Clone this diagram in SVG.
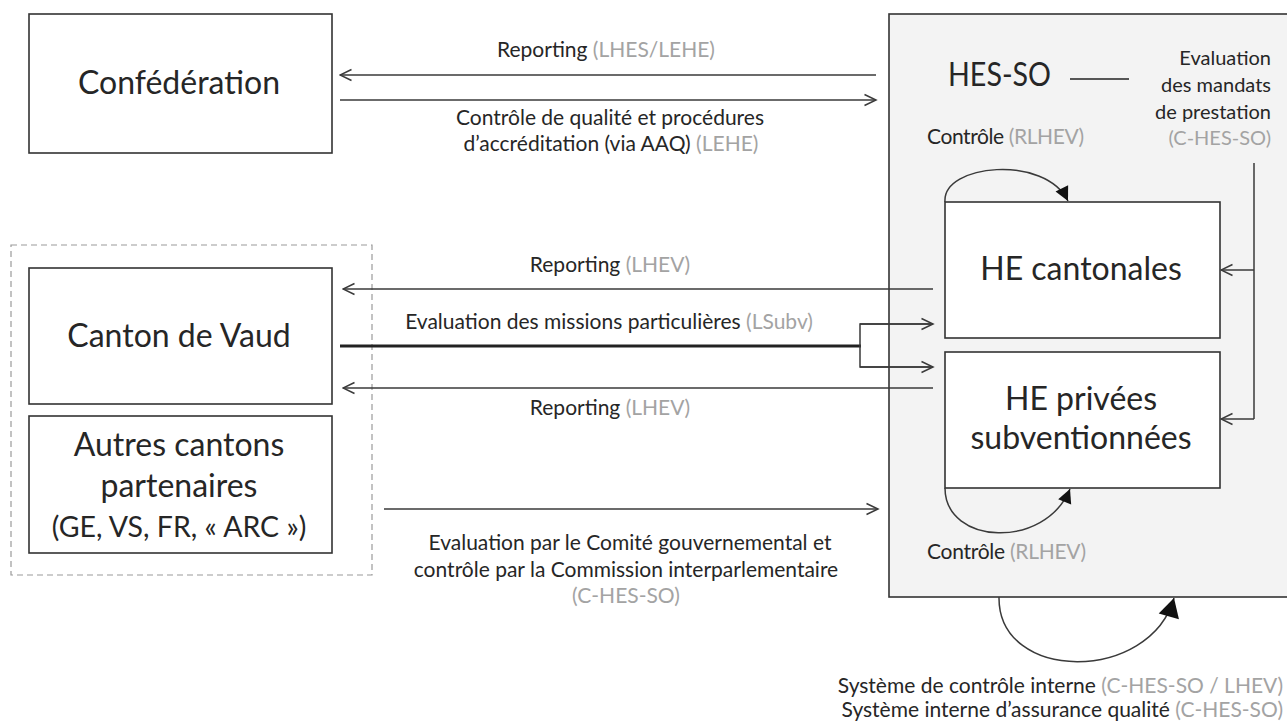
<svg xmlns="http://www.w3.org/2000/svg" width="1287" height="722" viewBox="0 0 1287 722">
<style>
text{font-family:Lato,"Open Sans","Liberation Sans",sans-serif;fill:#262626}
.big{font-size:32px}
.mid{font-size:28.5px}
.sm{font-size:21px}
.col{font-size:20px}
.g{fill:#a3a3a3}
.box{fill:#fff;stroke:#333;stroke-width:1.6}
.ln{fill:none;stroke:#3a3a3a;stroke-width:1.5}
.c{text-anchor:middle}
.r{text-anchor:end}
</style>
<defs>
<marker id="open" markerUnits="userSpaceOnUse" markerWidth="14" markerHeight="14" viewBox="0 0 14 14" refX="12.5" refY="7" orient="auto">
<path d="M1,1.5 L12.5,7 L1,12.5" fill="none" stroke="#3a3a3a" stroke-width="1.5"/>
</marker>
<marker id="tri" markerUnits="userSpaceOnUse" markerWidth="18" markerHeight="18" viewBox="0 0 18 18" refX="15" refY="9" orient="auto">
<path d="M1,2 L15,9 L1,16 Z" fill="#111"/>
</marker>
<marker id="tri2" markerUnits="userSpaceOnUse" markerWidth="22" markerHeight="24" viewBox="0 0 22 24" refX="20" refY="12" orient="auto">
<path d="M1,1.5 L20,12 L1,22.5 Z" fill="#111"/>
</marker>
</defs>
<rect width="1287" height="722" fill="#fff"/>

<g id="hesso">
<rect x="889" y="14" width="400" height="583" fill="#f3f3f3" stroke="#333" stroke-width="1.6"/>
<text class="big" x="948" y="86" textLength="103" lengthAdjust="spacingAndGlyphs">HES-SO</text>
<line x1="1070" y1="79" x2="1129" y2="79" stroke="#222" stroke-width="1.5"/>
<text class="col r" x="1271" y="65">Evaluation</text>
<text class="col r" x="1271" y="92">des mandats</text>
<text class="col r" x="1271" y="119">de prestation</text>
<text class="col r g" x="1271" y="145">(C-HES-SO)</text>
<text class="sm" x="927" y="144" textLength="157">Contrôle <tspan class="g">(RLHEV)</tspan></text>
<text class="sm" x="927" y="559" textLength="159">Contrôle <tspan class="g">(RLHEV)</tspan></text>
</g>

<g id="confederation">
<rect class="box" x="29" y="14" width="303" height="139"/>
<text class="big c" x="179" y="94">Confédération</text>
</g>

<g id="cantons-group">
<rect x="11" y="245" width="361" height="330" fill="none" stroke="#9a9a9a" stroke-width="1.2" stroke-dasharray="6 4"/>
</g>

<g id="canton-vaud">
<rect class="box" x="29" y="268" width="303" height="136"/>
<text class="big c" x="179" y="347">Canton de Vaud</text>
</g>

<g id="autres-cantons">
<rect class="box" x="29" y="416" width="303" height="137"/>
<text class="big c" x="179" y="456">Autres cantons</text>
<text class="big c" x="179" y="497">partenaires</text>
<text class="mid c" x="179" y="537">(GE, VS, FR, « ARC »)</text>
</g>

<g id="he-cantonales">
<rect class="box" x="945" y="202" width="275" height="136"/>
<text class="big c" x="1081" y="280">HE cantonales</text>
</g>

<g id="he-privees">
<rect class="box" x="945" y="352" width="275" height="136"/>
<text class="big c" x="1081" y="410">HE privées</text>
<text class="big c" x="1081" y="449">subventionnées</text>
</g>

<g id="connectors">
<line class="ln" x1="876" y1="75" x2="340" y2="75" marker-end="url(#open)"/>
<text class="sm c" x="606" y="57">Reporting <tspan class="g">(LHES/LEHE)</tspan></text>
<line class="ln" x1="340" y1="100" x2="876" y2="100" marker-end="url(#open)"/>
<text class="sm c" x="610" y="125">Contrôle de qualité et procédures</text>
<text class="sm c" x="611" y="151">d’accréditation (via AAQ) <tspan class="g">(LEHE)</tspan></text>

<line class="ln" x1="933" y1="289" x2="343" y2="289" marker-end="url(#open)"/>
<text class="sm c" x="610" y="272">Reporting <tspan class="g">(LHEV)</tspan></text>
<line x1="340" y1="346" x2="861" y2="346" stroke="#222" stroke-width="3"/>
<polyline class="ln" points="933,324 860,324 860,367 933,367"/>
<line class="ln" x1="860" y1="324" x2="933" y2="324" marker-end="url(#open)"/>
<line class="ln" x1="860" y1="367" x2="933" y2="367" marker-end="url(#open)"/>
<text class="sm c" x="609" y="329">Evaluation des missions particulières <tspan class="g">(LSubv)</tspan></text>
<line class="ln" x1="933" y1="388" x2="343" y2="388" marker-end="url(#open)"/>
<text class="sm c" x="610" y="415">Reporting <tspan class="g">(LHEV)</tspan></text>

<line class="ln" x1="384" y1="509" x2="878" y2="509" marker-end="url(#open)"/>
<text class="sm c" x="630" y="550">Evaluation par le Comité gouvernemental  et</text>
<text class="sm c" x="626" y="577">contrôle par la Commission interparlementaire</text>
<text class="sm c g" x="626" y="603">(C-HES-SO)</text>

<polyline class="ln" points="1254,163 1254,419"/>
<line class="ln" x1="1254" y1="270" x2="1221" y2="270" marker-end="url(#open)"/>
<line class="ln" x1="1254" y1="419" x2="1221" y2="419" marker-end="url(#open)"/>

<path class="ln" d="M945,202 C942,164 1045,154 1068,201" marker-end="url(#tri)"/>
<path class="ln" d="M945,488 C945,545 1045,550 1070,489" marker-end="url(#tri)"/>
<path class="ln" d="M999,597 C998,683 1150,683 1174,598" marker-end="url(#tri2)"/>
<text class="sm r" x="1283" y="693">Système de contrôle interne <tspan class="g">(C-HES-SO / LHEV)</tspan></text>
<text class="sm r" x="1283" y="717">Système interne d’assurance qualité <tspan class="g">(C-HES-SO)</tspan></text>
</g>
</svg>
